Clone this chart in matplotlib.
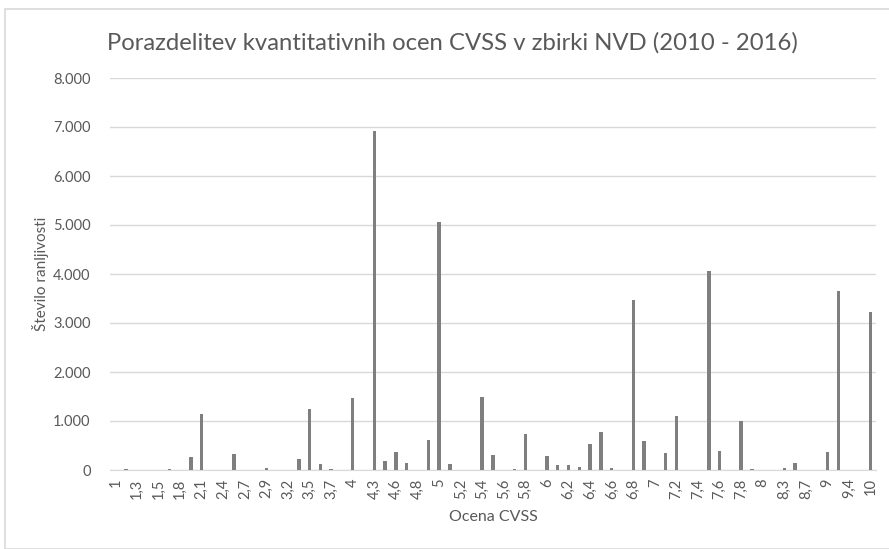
import matplotlib
matplotlib.use('Agg')
import matplotlib.pyplot as plt
import matplotlib.patches as patches
import numpy as np
from matplotlib.ticker import FuncFormatter

# CVSS score categories (as they appear on the axis, every other one is labelled)
scores = ['1', '1,2', '1,3', '1,4', '1,5', '1,7', '1,8', '1,9', '2,1', '2,3',
          '2,4', '2,6', '2,7', '2,8', '2,9', '3', '3,2', '3,3', '3,5', '3,6',
          '3,7', '3,8', '4', '4,1', '4,3', '4,4', '4,6', '4,7', '4,8', '4,9',
          '5', '5,1', '5,2', '5,3', '5,4', '5,5', '5,6', '5,7', '5,8', '5,9',
          '6', '6,1', '6,2', '6,3', '6,4', '6,5', '6,6', '6,7', '6,8', '6,9',
          '7', '7,1', '7,2', '7,3', '7,4', '7,5', '7,6', '7,7', '7,8', '7,9',
          '8', '8,2', '8,3', '8,5', '8,7', '8,8', '9', '9,3', '9,4', '9,7', '10']

# number of vulnerabilities per score
counts = [3, 30, 3, 3, 3, 25, 3, 265, 1138, 3,
          3, 324, 3, 3, 35, 3, 3, 228, 1255, 117,
          28, 3, 1476, 3, 6927, 179, 366, 138, 3, 621,
          5055, 117, 3, 3, 1490, 310, 3, 20, 738, 3,
          290, 103, 103, 62, 531, 772, 41, 3, 3469, 600,
          3, 345, 1103, 3, 3, 4068, 386, 3, 993, 28,
          3, 3, 41, 145, 3, 3, 366, 3650, 3, 3, 3220]

title = 'Porazdelitev kvantitativnih ocen CVSS v zbirki NVD (2010 - 2016)'
txt = '#595959'

plt.rcParams['font.family'] = ['Lato', 'DejaVu Sans']

fig = plt.figure(figsize=(8.89, 5.49), dpi=100)
W, H = 889, 549

# light chart border like the Excel chart area
fig.patches.append(patches.Rectangle((5 / W, 0), 1, 1 - 9 / H, transform=fig.transFigure,
                                     fill=False, edgecolor='#D9D9D9', linewidth=1.2))

ax = fig.add_axes([110 / W, (H - 470) / H, (876 - 110) / W, (470 - 78) / H])

x_pos = np.arange(len(scores))
ax.bar(x_pos, counts, width=0.32, color='#7F7F7F', zorder=3)

ax.set_xlim(-0.5, len(scores) - 0.5)
ax.set_ylim(0, 8000)
ax.set_yticks(np.arange(0, 8001, 1000))
ax.yaxis.set_major_formatter(FuncFormatter(lambda v, p: f'{int(v):,}'.replace(',', '.')))
ax.set_xticks(x_pos[::2])
ax.set_xticklabels(scores[::2], rotation=90)

ax.grid(axis='y', color='#D9D9D9', linewidth=1, zorder=0)
for s in ['top', 'right', 'left']:
    ax.spines[s].set_visible(False)
ax.spines['bottom'].set_color('#D9D9D9')
ax.tick_params(axis='both', length=0, labelsize=10.5, labelcolor=txt)
ax.tick_params(axis='y', pad=14)
ax.tick_params(axis='x', pad=6)

ax.set_xlabel('Ocena CVSS', fontsize=11.5, color=txt, labelpad=8)
ax.set_ylabel('Število ranljivosti', fontsize=11, color=txt, labelpad=3)
fig.text(452 / W, 1 - 43 / H, title, fontsize=17.2, color=txt, ha='center', va='center')

fig.savefig('out.png', dpi=100)
